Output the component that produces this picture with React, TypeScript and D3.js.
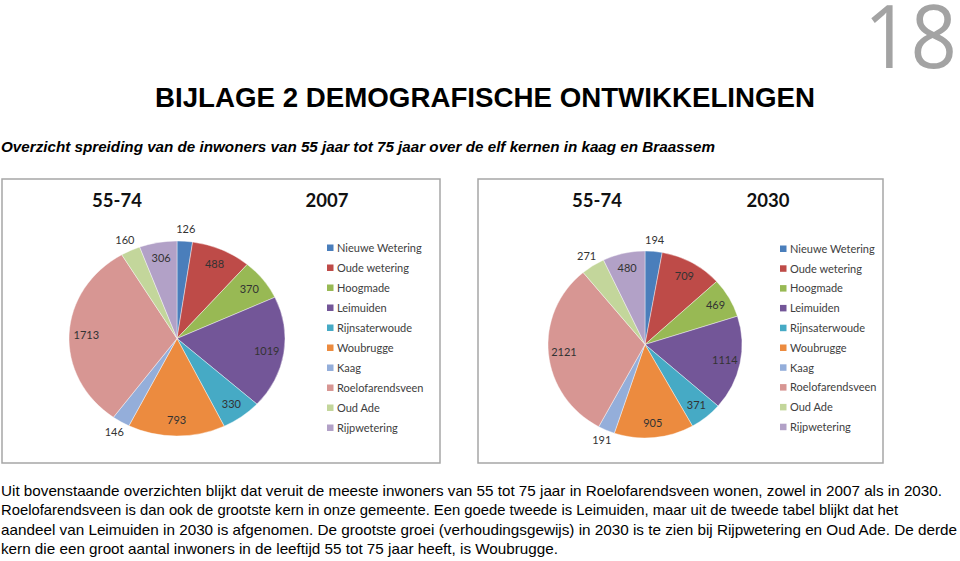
import React from "react";
import * as d3 from "d3";

const kernen = [
  "Nieuwe Wetering",
  "Oude wetering",
  "Hoogmade",
  "Leimuiden",
  "Rijnsaterwoude",
  "Woubrugge",
  "Kaag",
  "Roelofarendsveen",
  "Oud Ade",
  "Rijpwetering",
];
const values2007 = [126, 488, 370, 1019, 330, 793, 146, 1713, 160, 306];
const values2030 = [194, 709, 469, 1114, 371, 905, 191, 2121, 271, 480];
const sliceColors = [
  "#4A7EBB",
  "#BE4B48",
  "#98B954",
  "#735698",
  "#46AAC5",
  "#EC8B3F",
  "#94AEDA",
  "#D79693",
  "#C3D69B",
  "#B2A1C7",
];

const pageTitle = "BIJLAGE 2 DEMOGRAFISCHE ONTWIKKELINGEN";
const subTitle =
  "Overzicht spreiding van de inwoners van 55 jaar tot 75 jaar over de elf kernen in kaag en Braassem";
const paragraph = [
  "Uit bovenstaande overzichten blijkt dat veruit de meeste inwoners van 55 tot 75 jaar in Roelofarendsveen wonen, zowel in 2007 als in 2030.",
  "Roelofarendsveen is dan ook de grootste kern in onze gemeente.  Een goede tweede is Leimuiden, maar uit de tweede tabel blijkt dat het",
  "aandeel van Leimuiden in 2030 is afgenomen. De grootste groei (verhoudingsgewijs) in 2030 is te zien bij Rijpwetering en Oud Ade. De derde",
  "kern die een groot aantal inwoners in de leeftijd 55 tot 75 jaar heeft, is Woubrugge.",
];
const paragraphWidths = [941, 897, 956, 557];

type ChartSpec = {
  values: number[];
  year: string;
  box: [number, number, number, number];
  cx: number;
  cy: number;
  rx: number;
  ry: number;
  ageX: number;
  yearX: number;
  legendX: number;
  legendY: number;
  legendStep: number;
};

const charts: ChartSpec[] = [
  {
    values: values2007,
    year: "2007",
    box: [2, 179, 440, 463],
    cx: 177,
    cy: 338.5,
    rx: 108,
    ry: 97.5,
    ageX: 117,
    yearX: 327,
    legendX: 330,
    legendY: 248,
    legendStep: 20,
  },
  {
    values: values2030,
    year: "2030",
    box: [478, 179, 883, 463],
    cx: 645,
    cy: 344.5,
    rx: 97,
    ry: 93.5,
    ageX: 597,
    yearX: 768,
    legendX: 783,
    legendY: 249,
    legendStep: 19.8,
  },
];

const labelFont = "Lato, 'Open Sans', sans-serif";

function PieChart({ spec }: { spec: ChartSpec }) {
  const total = d3.sum(spec.values);
  const pie = d3
    .pie<number>()
    .sort(null)
    .startAngle(0)
    .endAngle(2 * Math.PI)
    .value((d) => d);
  const arcs = pie(spec.values);
  const arcGen = d3.arc<d3.PieArcDatum<number>>().innerRadius(0).outerRadius(spec.ry);
  const sx = spec.rx / spec.ry;
  const [x0, y0, x1, y1] = spec.box;
  return (
    <g>
      <rect
        x={x0}
        y={y0}
        width={x1 - x0}
        height={y1 - y0}
        fill="#fff"
        stroke="#a6a6a6"
        strokeWidth={1.5}
      />
      <text
        x={spec.ageX}
        y={207}
        textAnchor="middle"
        fontFamily={labelFont}
        fontWeight={700}
        fontSize={18.5}
        fill="#111"
      >
        55-74
      </text>
      <text
        x={spec.yearX}
        y={207}
        textAnchor="middle"
        fontFamily={labelFont}
        fontWeight={700}
        fontSize={18.5}
        fill="#111"
      >
        {spec.year}
      </text>
      <g transform={`translate(${spec.cx},${spec.cy}) scale(${sx},1)`}>
        {arcs.map((a, i) => (
          <path
            key={i}
            d={arcGen(a) || ""}
            fill={sliceColors[i]}
            stroke="#fff"
            strokeWidth={0.4}
          />
        ))}
      </g>
      {arcs.map((a, i) => {
        const frac = a.value / total;
        const outside = frac < 0.05;
        const r = outside ? 1.12 : 0.84;
        const mid = (a.startAngle + a.endAngle) / 2;
        const x = spec.cx + Math.sin(mid) * spec.rx * r;
        const y = spec.cy - Math.cos(mid) * spec.ry * r;
        return (
          <text
            key={i}
            x={x}
            y={y}
            dy="0.35em"
            textAnchor="middle"
            fontFamily={labelFont}
            fontSize={11}
            fill="#333"
          >
            {a.value}
          </text>
        );
      })}
      {kernen.map((k, i) => (
        <g key={k} transform={`translate(${spec.legendX},${spec.legendY + i * spec.legendStep})`}>
          <rect x={-3} y={-3.5} width={6.5} height={6.5} fill={sliceColors[i]} />
          <text x={7} y={0} dy="0.35em" fontFamily={labelFont} fontSize={11} fill="#404040">
            {k}
          </text>
        </g>
      ))}
    </g>
  );
}

export default function App() {
  const bodyFont = "'Liberation Sans', Arial, sans-serif";
  return (
    <svg
      width={960}
      height={561}
      viewBox="0 0 960 561"
      style={{ position: "absolute", left: 0, top: 0, background: "#fff" }}
    >
      <rect x={0} y={0} width={960} height={561} fill="#fff" />
      <text
        x={957}
        y={68}
        textAnchor="end"
        fontFamily="'Open Sans', sans-serif"
        fontWeight={400}
        fontSize={88}
        fill="#a3a3a3"
        textLength={93}
        lengthAdjust="spacingAndGlyphs"
      >
        18
      </text>
      <text
        x={155}
        y={107}
        fontFamily={bodyFont}
        fontWeight={700}
        fontSize={27}
        fill="#000"
        textLength={660}
        lengthAdjust="spacingAndGlyphs"
      >
        {pageTitle}
      </text>
      <text
        x={1}
        y={152}
        fontFamily={bodyFont}
        fontWeight={700}
        fontStyle="italic"
        fontSize={14}
        fill="#000"
        textLength={714}
        lengthAdjust="spacingAndGlyphs"
      >
        {subTitle}
      </text>
      {charts.map((c) => (
        <PieChart key={c.year} spec={c} />
      ))}
      {paragraph.map((line, i) => (
        <text
          key={i}
          x={1}
          y={496 + i * 19.4}
          fontFamily={bodyFont}
          fontSize={14.5}
          fill="#000"
          textLength={paragraphWidths[i]}
          lengthAdjust="spacingAndGlyphs"
        >
          {line}
        </text>
      ))}
    </svg>
  );
}
